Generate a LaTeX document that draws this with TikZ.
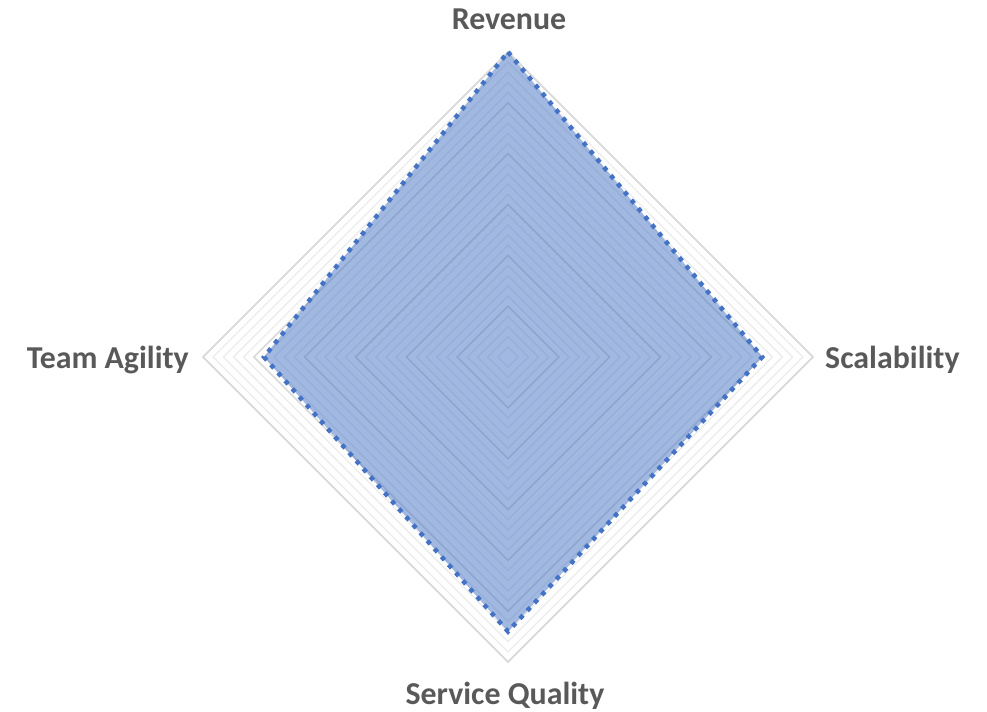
\documentclass[tikz,border=0pt]{standalone}
\usepackage{fontspec}
\setmainfont{Carlito}
\definecolor{chartblue}{HTML}{4472C4}
\definecolor{labelgray}{HTML}{595959}
\definecolor{gridlight}{HTML}{EDEDED}
\definecolor{griddark}{HTML}{D9D9D9}
\newcommand{\ringstep}{10.1667}
\tikzset{
    axislabel/.style = {font=\bfseries\fontsize{32}{38}\selectfont, text=labelgray, inner sep=0pt},
    gridminor/.style = {line width=1.5bp, draw=gridlight, line join=miter},
    gridmajor/.style = {line width=1.5bp, draw=griddark, line join=miter},
    datafill/.style = {fill=chartblue, fill opacity=0.5},
    dataline/.style = {draw=chartblue, line width=4.5bp, dash pattern=on 4.5bp off 6.2bp} % dotted outline
}

\begin{document}
\begin{tikzpicture}[x=1bp, y=1bp]
  \useasboundingbox (-508,-355) rectangle (479,357);
  % rings
  \foreach \r in {1,...,30} {
    \draw[gridminor] (0,\r*\ringstep) -- (\r*\ringstep,0) -- (0,-\r*\ringstep) -- (-\r*\ringstep,0) -- cycle;
  }
  \foreach \r in {5,10,...,30} {
    \draw[gridmajor] (0,\r*\ringstep) -- (\r*\ringstep,0) -- (0,-\r*\ringstep) -- (-\r*\ringstep,0) -- cycle;
  }
  % outer corners
  \coordinate (otop) at (0,30*\ringstep);
  \coordinate (oright) at (30*\ringstep,0);
  \coordinate (obot) at (0,-30*\ringstep);
  \coordinate (oleft) at (-30*\ringstep,0);
  % data
  \coordinate (rev) at (0,30*\ringstep);
  \coordinate (sca) at (25*\ringstep,0);
  \coordinate (ser) at (0,-27*\ringstep);
  \coordinate (tea) at (-24*\ringstep,0);
  \fill[datafill] (rev) -- (sca) -- (ser) -- (tea) -- cycle;
  \draw[dataline] (rev) -- (sca) -- (ser) -- (tea) -- cycle;
  % labels
  \node[axislabel, anchor=base] (revenue) at ([xshift=1bp,yshift=22.7bp]otop) {Revenue};
  \node[axislabel, anchor=base west] (scalability) at ([xshift=12bp,yshift=-11.3bp]oright) {Scalability};
  \node[axislabel, anchor=base] (quality) at ([xshift=-3bp,yshift=-42.7bp]obot) {Service Quality};
  \node[axislabel, anchor=base east] (agility) at ([xshift=-14bp,yshift=-11.3bp]oleft) {Team Agility};
\end{tikzpicture}
\end{document}
